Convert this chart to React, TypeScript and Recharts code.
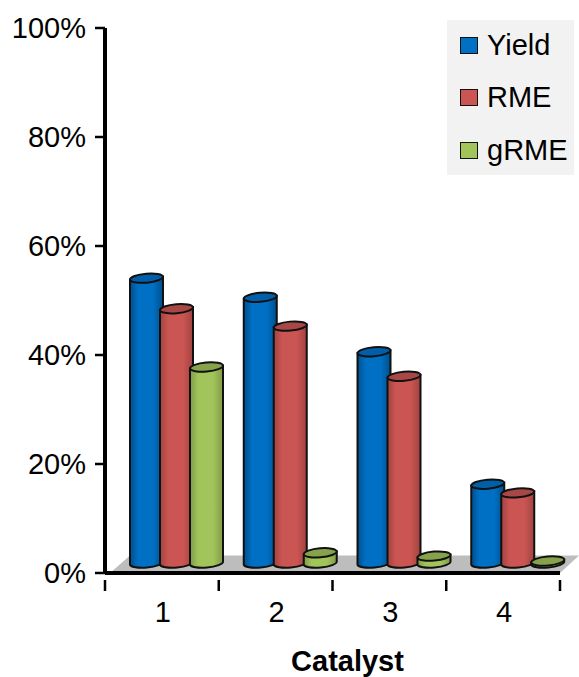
import { BarChart, Bar, XAxis, YAxis, Legend, ReferenceArea } from 'recharts';

const catalysts = ['1', '2', '3', '4'];
const yieldValues = [53, 49.5, 39.5, 15.2];
const rmeValues = [47.4, 44.2, 35, 13.6];
const grmeValues = [36.7, 2.6, 2, 1.1];
const yTicks = [0, 20, 40, 60, 80, 100];

const series = [
  { key: 'Yield', values: yieldValues, fill: '#0070c4', edge: '#004f8c', top: '#005fa8' },
  { key: 'RME', values: rmeValues, fill: '#cb5552', edge: '#a04341', top: '#a84846' },
  { key: 'gRME', values: grmeValues, fill: '#a2c55b', edge: '#7f9b46', top: '#86a34c' },
];

const chartData = catalysts.map((name, i) => ({
  name,
  Yield: yieldValues[i],
  RME: rmeValues[i],
  gRME: grmeValues[i],
}));

const font = '"Liberation Sans", Arial, sans-serif';
const bandWidth = 113.75;

// the reference is a fake 3D chart, bars sit back on the floor
const depthX = 15;
const depthY = 6;
const baseLift = 10;

function Cylinder(props: any) {
  const { x, y, width, height, gradient, topColor } = props;
  const left = x + depthX;
  const right = left + width;
  const top = y - depthY;
  const bottom = y + height - baseLift;
  const rx = width / 2;
  const ry = 4.5;
  const tilt = 1.5;
  const cx = left + rx;
  return (
    <g>
      <path
        d={`M${left},${top + tilt} L${left},${bottom + tilt} A${rx},${ry} -5 0 0 ${right},${bottom - tilt} L${right},${top - tilt} Z`}
        fill={`url(#${gradient})`}
        stroke="#111"
        strokeWidth={2}
      />
      <ellipse
        cx={cx}
        cy={top}
        rx={rx}
        ry={ry}
        fill={topColor}
        stroke="#111"
        strokeWidth={2}
        transform={`rotate(-5 ${cx} ${top})`}
      />
    </g>
  );
}

function Floor(props: any) {
  const { x, y, width, height } = props;
  return (
    <polygon
      points={`${x + 5},${y + height} ${x + 25},${y} ${x + width + 19},${y} ${x + width},${y + height}`}
      fill="#bdbdbd"
    />
  );
}

function CategoryTick(props: any) {
  const { x, y, index, payload } = props;
  const left = x - bandWidth / 2;
  return (
    <g>
      <line x1={left} x2={left} y1={y - 1} y2={y + 10} stroke="#000" strokeWidth={2.5} />
      {index === catalysts.length - 1 && (
        <line x1={left + bandWidth} x2={left + bandWidth} y1={y - 1} y2={y + 10} stroke="#000" strokeWidth={2.5} />
      )}
      <text x={x + 1} y={y + 41} textAnchor="middle" fontSize={29} fontFamily={font} fill="#000">
        {payload.value}
      </text>
    </g>
  );
}

function LegendBox(props: any) {
  const { payload } = props;
  return (
    <div style={{ background: '#f2f2f2', width: 127, height: 155, boxSizing: 'border-box' }}>
      <div style={{ position: 'relative', top: -1 }}>
        {(payload || []).map((item: any) => (
          <div key={item.value} style={{ display: 'flex', alignItems: 'center', height: 52.5, paddingLeft: 13 }}>
            <span
              style={{
                width: 18,
                height: 17,
                background: item.color,
                border: '1.5px solid #111',
                boxSizing: 'border-box',
                marginRight: 9,
              }}
            />
            <span style={{ fontFamily: font, fontSize: 29, color: '#000' }}>{item.value}</span>
          </div>
        ))}
      </div>
    </div>
  );
}

export default function App() {
  return (
    <div style={{ position: 'absolute', left: 0, top: 0, width: 579, height: 677 }}>
      <BarChart
        width={579}
        height={677}
        data={chartData}
        margin={{ top: 28, right: 19, bottom: 0, left: 0 }}
        barSize={33}
        barGap={-3}
        barCategoryGap={0}
      >
        <defs>
          {series.map((s) => (
            <linearGradient key={s.key} id={`cyl-${s.key}`} x1="0" x2="1" y1="0" y2="0">
              <stop offset="0%" stopColor={s.edge} />
              <stop offset="25%" stopColor={s.fill} />
              <stop offset="70%" stopColor={s.fill} />
              <stop offset="100%" stopColor={s.edge} />
            </linearGradient>
          ))}
        </defs>
        <XAxis
          dataKey="name"
          height={104}
          axisLine={{ stroke: '#000', strokeWidth: 4 }}
          tickLine={false}
          tick={<CategoryTick />}
          interval={0}
          label={{
            value: 'Catalyst',
            position: 'insideBottom',
            offset: 0,
            dx: 15,
            dy: -6,
            style: { fontFamily: font, fontSize: 29, fontWeight: 700, fill: '#000' },
          }}
        />
        <YAxis
          width={105}
          domain={[0, 100]}
          ticks={yTicks}
          tickFormatter={(v: number) => `${v}%`}
          axisLine={{ stroke: '#000', strokeWidth: 4 }}
          tickLine={{ stroke: '#000', strokeWidth: 2.5 }}
          tickSize={10}
          tickMargin={9}
          tick={{ fontFamily: font, fontSize: 29, fill: '#000' }}
        />
        <ReferenceArea y1={0} y2={3.2} shape={<Floor />} />
        <Legend
          layout="vertical"
          align="center"
          verticalAlign="middle"
          itemSorter={null}
          wrapperStyle={{ left: 447, top: 20, width: 127 }}
          content={<LegendBox />}
        />
        {series.map((s) => (
          <Bar
            key={s.key}
            dataKey={s.key}
            fill={s.fill}
            isAnimationActive={false}
            shape={(p: any) => <Cylinder {...p} gradient={`cyl-${s.key}`} topColor={s.top} />}
          />
        ))}
      </BarChart>
    </div>
  );
}
